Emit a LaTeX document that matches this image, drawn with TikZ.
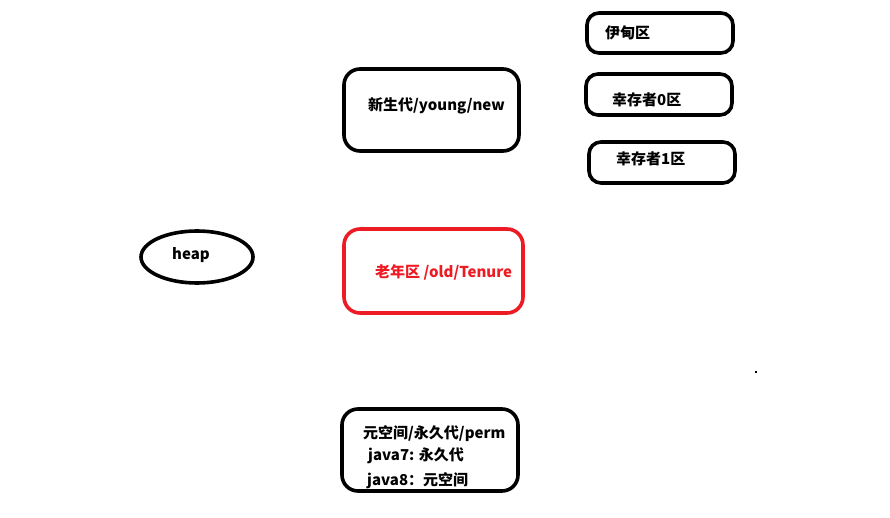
\documentclass[tikz,border=0pt]{standalone}
\usepackage{fontspec}
\setmainfont{Noto Sans CJK SC}
\usetikzlibrary{shapes.geometric}
\definecolor{oldred}{RGB}{237,28,36}
\begin{document}
\begin{tikzpicture}[x=1pt,y=-1pt,
        area/.style={draw,line width=3.6pt,rounded corners=16pt,inner sep=0pt},
        small/.style={area,rounded corners=12pt,minimum width=146pt,minimum height=41pt},
        txt/.style={font=\bfseries\fontsize{15}{18}\selectfont,inner sep=0pt,anchor=west}]
        \useasboundingbox (0,0) rectangle (890,518);

        % heap
        \node[draw,ellipse,line width=3.6pt,minimum width=112pt,minimum height=52pt] (heap) at (197,257) {};
        \node[txt,anchor=center] (heaptxt) at (191,255) {heap};

        % generations
        \node[area,minimum width=175pt,minimum height=82pt] (young) at (431.5,110) {};
        \node[area,draw=oldred,minimum width=179pt,minimum height=84pt] (old) at (433.5,271) {};
        \node[area,minimum width=176pt,minimum height=82pt] (perm) at (430,450) {};

        \node[txt] (youngtxt) at (368,106) {新生代/young/new};
        \node[txt,text=oldred] (oldtxt) at (375,272) {老年区 /old/Tenure};
        \node[txt] (permtxt) at (363,434) {元空间/永久代/perm};
        \node[txt] (java7) at (368,456) {java7: 永久代};
        \node[txt] (java8) at (367,481) {java8：元空间};

        % young areas
        \node[small,minimum height=40pt] (eden) at (660,33) {};
        \node[small] (survivor0) at (659,94.5) {};
        \node[small] (survivor1) at (662,162.5) {};

        \node[txt] (edentxt) at (605,33) {伊甸区};
        \node[txt] (s0txt) at (612,100) {幸存者0区};
        \node[txt] (s1txt) at (616,159) {幸存者1区};

        \fill (755,371) rectangle ++(2,2);
\end{tikzpicture}
\end{document}
